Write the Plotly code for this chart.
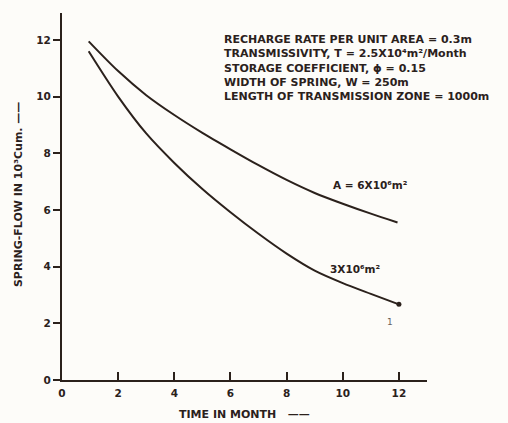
import plotly.graph_objects as go

# Spring-flow recession for two catchment areas
months_a = [0.95, 2.0, 3.0, 4.0, 5.0, 6.0, 7.0, 8.0, 9.0, 10.0, 11.0, 11.95]
flow_a = [11.95, 10.9, 10.05, 9.35, 8.72, 8.14, 7.58, 7.06, 6.6, 6.22, 5.87, 5.56]

months_b = [0.95, 2.0, 3.0, 4.0, 5.0, 6.0, 7.0, 8.0, 9.0, 10.0, 11.0, 12.0]
flow_b = [11.6, 10.0, 8.7, 7.66, 6.74, 5.92, 5.16, 4.46, 3.86, 3.42, 3.04, 2.67]

x_ticks = [0, 2, 4, 6, 8, 10, 12]
y_ticks = [0, 2, 4, 6, 8, 10, 12]

parameters = [
    "RECHARGE RATE PER UNIT AREA = 0.3m",
    "TRANSMISSIVITY, T = 2.5X10\u2074m\u00b2/Month",
    "STORAGE COEFFICIENT, \u03d5 = 0.15",
    "WIDTH OF SPRING, W = 250m",
    "LENGTH OF TRANSMISSION ZONE = 1000m",
]

INK = "#2b211c"
FONT = "DejaVu Sans"

fig = go.Figure()
fig.add_trace(go.Scatter(x=months_a, y=flow_a, mode="lines",
                         line=dict(color=INK, width=2, shape="spline", smoothing=0.8),
                         hoverinfo="skip"))
fig.add_trace(go.Scatter(x=months_b, y=flow_b, mode="lines",
                         line=dict(color=INK, width=2, shape="spline", smoothing=0.8),
                         hoverinfo="skip"))
# small dot closing the lower curve
fig.add_trace(go.Scatter(x=[months_b[-1]], y=[flow_b[-1]], mode="markers",
                         marker=dict(color=INK, size=5), hoverinfo="skip"))

# parameter block, top right
fig.add_annotation(x=5.69, y=0.952, xref="x", yref="paper",
                   text="<b>" + "<br>".join(parameters) + "</b>",
                   showarrow=False, align="left",
                   xanchor="left", yanchor="top",
                   font=dict(family=FONT, size=11, color=INK))

# curve labels
fig.add_annotation(x=9.57, y=6.89, xref="x", yref="y",
                   text="<b>A = 6X10\u2076m\u00b2</b>", showarrow=False,
                   xanchor="left", yanchor="middle",
                   font=dict(family=FONT, size=10.5, color=INK))
fig.add_annotation(x=9.47, y=3.92, xref="x", yref="y",
                   text="<b>3X10\u2076m\u00b2</b>", showarrow=False,
                   xanchor="left", yanchor="middle",
                   font=dict(family=FONT, size=10.5, color=INK))
fig.add_annotation(x=11.67, y=2.05, xref="x", yref="y",
                   text="1", showarrow=False,
                   font=dict(family=FONT, size=9, color="#6a625c"))

# axis titles
fig.add_annotation(x=-0.1205, y=0.504, xref="paper", yref="paper",
                   text="<b>SPRING-FLOW IN 10\u00b3Cum. \u2014\u2014</b>",
                   textangle=-90, showarrow=False,
                   xanchor="center", yanchor="middle",
                   font=dict(family=FONT, size=11, color=INK))
fig.add_annotation(x=0.5, y=-0.095, xref="paper", yref="paper",
                   text="<b>TIME IN MONTH   \u2014\u2014</b>", showarrow=False,
                   xanchor="center", yanchor="middle",
                   font=dict(family=FONT, size=11, color=INK))

fig.update_layout(
    width=508, height=423,
    margin=dict(l=62, r=81, t=13, b=43),
    paper_bgcolor="#fdfcf9", plot_bgcolor="#fdfcf9",
    showlegend=False,
    font=dict(family=FONT, size=10.5, color=INK),
    xaxis=dict(range=[0, 13], tickvals=x_ticks,
               ticktext=["<b>%d</b>" % v for v in x_ticks],
               ticks="inside", ticklen=8, tickwidth=1.5, tickcolor=INK,
               showline=True, linecolor=INK, linewidth=2,
               showgrid=False, zeroline=False, ticklabelstandoff=2),
    yaxis=dict(range=[0, 12.95], tickvals=y_ticks,
               ticktext=["<b>%d</b>" % v for v in y_ticks],
               ticks="outside", ticklen=7, tickwidth=1.5, tickcolor=INK,
               showline=True, linecolor=INK, linewidth=2,
               showgrid=False, zeroline=False, ticklabelstandoff=0),
)

fig.write_html("out.html")
